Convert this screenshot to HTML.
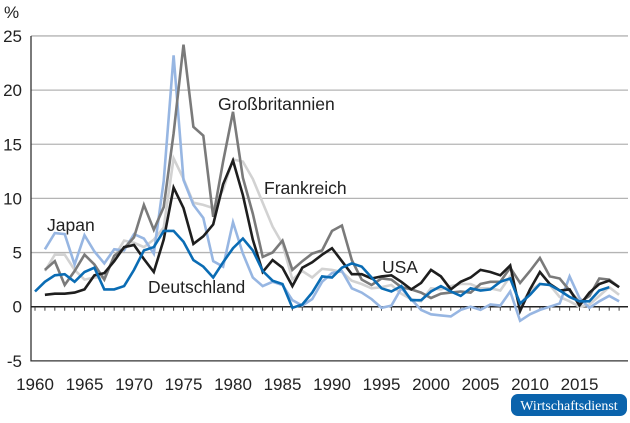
<!DOCTYPE html>
<html><head><meta charset="utf-8"><style>
body{margin:0;background:#fff;width:630px;height:418px;overflow:hidden;font-family:"Liberation Sans",sans-serif}
</style></head><body>
<svg id="c" width="630" height="418" xmlns="http://www.w3.org/2000/svg"></svg>
<script>
const years=[];for(let y=1960;y<=2019;y++)years.push(y);
const yTicks=[-5,0,5,10,15,20,25];
const xTickLabels=[1960,1965,1970,1975,1980,1985,1990,1995,2000,2005,2010,2015];
const japan=[null,5.3,6.8,6.7,3.9,6.6,5.1,4.0,5.3,5.2,6.7,6.3,4.9,11.6,23.2,11.7,9.4,8.2,4.2,3.7,7.8,4.9,2.7,1.9,2.3,2.0,0.6,0.1,0.7,2.3,3.1,3.3,1.7,1.3,0.7,-0.1,0.1,1.7,0.7,-0.3,-0.7,-0.8,-0.9,-0.3,0.0,-0.3,0.2,0.1,1.4,-1.3,-0.7,-0.3,0.0,0.3,2.8,0.8,-0.1,0.5,1.0,0.5];
const france=[null,3.3,4.8,4.8,3.4,2.5,2.7,2.7,4.6,6.1,5.9,5.5,6.2,7.3,13.7,11.8,9.6,9.4,9.1,10.8,13.6,13.4,11.8,9.6,7.4,5.8,2.5,3.3,2.7,3.5,3.4,3.2,2.4,2.1,1.7,1.8,2.0,1.2,0.7,0.5,1.7,1.6,1.9,2.1,2.1,1.7,1.7,1.5,2.8,0.1,1.5,2.1,2.0,0.9,0.5,0.0,0.2,1.0,1.8,1.1];
const uk=[null,3.4,4.2,2.0,3.3,4.8,3.9,2.5,4.7,5.4,6.4,9.4,7.1,9.2,16.0,24.2,16.6,15.8,8.3,13.4,18.0,11.9,8.6,4.6,5.0,6.1,3.4,4.2,4.9,5.2,7.0,7.5,4.3,2.5,2.0,2.6,2.5,1.8,1.6,1.3,0.8,1.2,1.3,1.4,1.3,2.1,2.3,2.3,3.6,2.2,3.3,4.5,2.8,2.6,1.5,0.4,1.0,2.6,2.5,1.8];
const usa=[null,1.1,1.2,1.2,1.3,1.6,2.9,3.1,4.2,5.5,5.7,4.4,3.2,6.2,11.0,9.1,5.8,6.5,7.6,11.3,13.5,10.3,6.2,3.2,4.3,3.6,1.9,3.6,4.1,4.8,5.4,4.2,3.0,3.0,2.6,2.8,2.9,2.3,1.6,2.2,3.4,2.8,1.6,2.3,2.7,3.4,3.2,2.9,3.8,-0.4,1.6,3.2,2.1,1.5,1.6,0.1,1.3,2.1,2.4,1.8];
const germany=[1.4,2.3,2.9,3.0,2.3,3.2,3.6,1.6,1.6,1.9,3.4,5.2,5.5,7.0,7.0,6.0,4.3,3.7,2.7,4.1,5.4,6.3,5.2,3.3,2.4,2.1,-0.1,0.2,1.3,2.8,2.7,3.6,4.0,3.7,2.7,1.7,1.4,1.9,0.6,0.6,1.4,1.9,1.4,1.0,1.7,1.5,1.6,2.3,2.6,0.3,1.1,2.1,2.0,1.5,0.9,0.5,0.5,1.5,1.8,null];
const NS="http://www.w3.org/2000/svg",svg=document.getElementById('c');
const X=y=>35+(y-1960)*9.9, Y=v=>306.7-v*10.83;
function mk(t,a,p){const e=document.createElementNS(NS,t);for(const k in a)e.setAttribute(k,a[k]);(p||svg).appendChild(e);return e;}
yTicks.forEach(v=>{
 if(v>0){const g=mk('line',{x1:31,x2:628,y1:Y(v),y2:Y(v),stroke:'#b4b4b4','stroke-width':1.3});
 
 }
 const t=mk('text',{x:22,y:Y(v)+6,'text-anchor':'end','font-size':17,fill:'#222'});t.textContent=v;
 
 
});
const ax=mk('path',{d:`M31,${Y(25)}V${Y(-5)}H628`,stroke:'#333','stroke-width':1.3,fill:'none'});


const z=mk('line',{x1:31,x2:628,y1:Y(0),y2:Y(0),stroke:'#222','stroke-width':1.5});


years.forEach(y=>{const t=mk('line',{x1:X(y),x2:X(y),y1:Y(0),y2:Y(0)+4,stroke:'#444','stroke-width':1});
 
 });
xTickLabels.forEach(y=>{const t=mk('text',{x:X(y),y:390,'text-anchor':'middle','font-size':17,fill:'#222'});t.textContent=y;
 
 });
const pct=mk('text',{x:4,y:18,'font-size':17,fill:'#222'});pct.textContent='%';


function line(d,col,name){let p='';d.forEach((v,i)=>{if(v==null)return;p+=(p?'L':'M')+X(years[i]).toFixed(1)+','+Y(v).toFixed(1);});
 const e=mk('path',{d:p,stroke:col,'stroke-width':2.6,fill:'none','stroke-linejoin':'miter'});
 
 }
line(france,'#d2d2d2','line-frankreich');
line(japan,'#97b6e2','line-japan');
line(uk,'#7a7a7a','line-grossbritannien');
line(usa,'#1e1e1e','line-usa');
line(germany,'#0a6cb4','line-deutschland');
[['Großbritannien',218,110],['Frankreich',264,194],['Japan',47,231],['Deutschland',148,293],['USA',382,273]].forEach(([s,x,y])=>{
 const t=mk('text',{x:x,y:y,'font-size':17.5,fill:'#222'});t.textContent=s;
 
 });
const b=mk('rect',{x:511,y:394,width:116,height:22,rx:7,fill:'#0a63ac'});


const bt=mk('text',{x:569,y:410,'text-anchor':'middle','font-size':14,fill:'#fff','font-family':'Liberation Serif, serif'});bt.textContent='Wirtschaftsdienst';


</script>
</body></html>
